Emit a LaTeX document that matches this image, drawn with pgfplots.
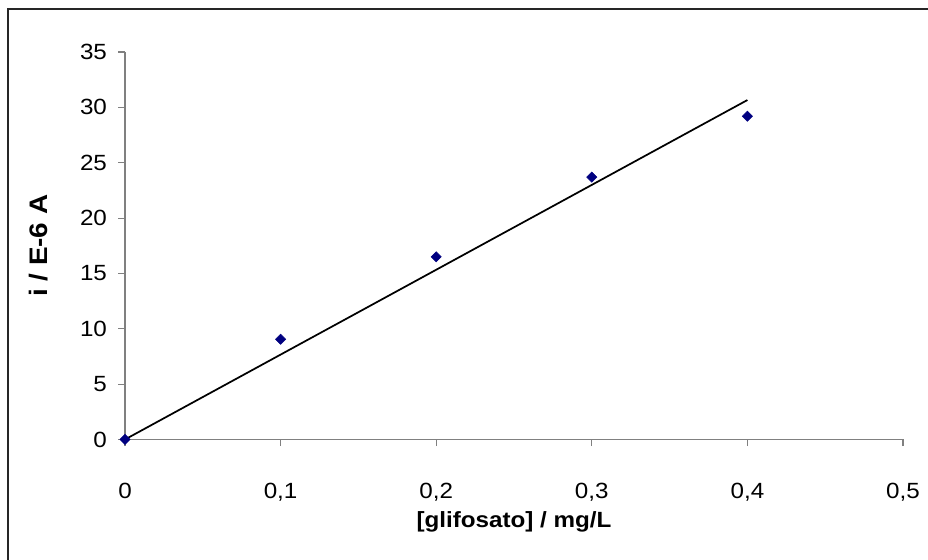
\documentclass[border=0pt]{standalone}
\usepackage{pgfplots}
\pgfplotsset{compat=1.18}
\usepackage{fontspec}
\setmainfont{Liberation Sans}[FakeStretch=1.1]
\definecolor{navy}{HTML}{000080}
\definecolor{axgray}{HTML}{808080}
\begin{document}
\begin{tikzpicture}
\useasboundingbox (0,0) rectangle (696pt,420pt);
\draw[line width=1pt, color=black!85] (6pt,-20pt) -- (6pt,413.25pt) -- (720pt,413.25pt);
\begin{axis}[
  at={(93.75pt,90.4pt)}, anchor=origin,
  scale only axis, width=583.5pt, height=290.6pt,
  xmin=0, xmax=0.5, ymin=0, ymax=35,
  axis x line=bottom, axis y line=left,
  axis line style={draw=axgray, line width=0.8pt, -},
  xtick={0,0.1,0.2,0.3,0.4,0.5},
  ytick={0,5,10,15,20,25,30,35},
  tick align=outside,
  major tick length=5pt,
  tick style={draw=axgray, line width=0.8pt},
  /pgf/number format/.cd, use comma, assume math mode=true,
  /pgfplots/.cd,
  tick label style={font=\fontsize{16.5}{19}\selectfont},
  xticklabel style={yshift=-24pt},
  yticklabel style={xshift=-5pt},
  xlabel={[glifosato] / mg/L},
  ylabel={i / E-6 A},
  xlabel style={font=\bfseries\fontsize{16.5}{19}\selectfont, at={(0.5,0)}, anchor=center, yshift=-61.5pt},
  ylabel style={font=\bfseries\fontsize{19}{22}\selectfont, at={(0,0.5)}, anchor=center, rotate=0, yshift=65pt},
  clip=false,
]
\addplot[black, line width=1.3pt] coordinates {(0,0) (0.4,30.66)};
\addplot[only marks, mark=square*, mark size=2.7pt, mark options={rotate=45, fill=navy, draw=navy}] coordinates {
(0,0) (0.1,9.05) (0.2,16.5) (0.3,23.7) (0.4,29.2)
};
\end{axis}
\end{tikzpicture}
\end{document}
